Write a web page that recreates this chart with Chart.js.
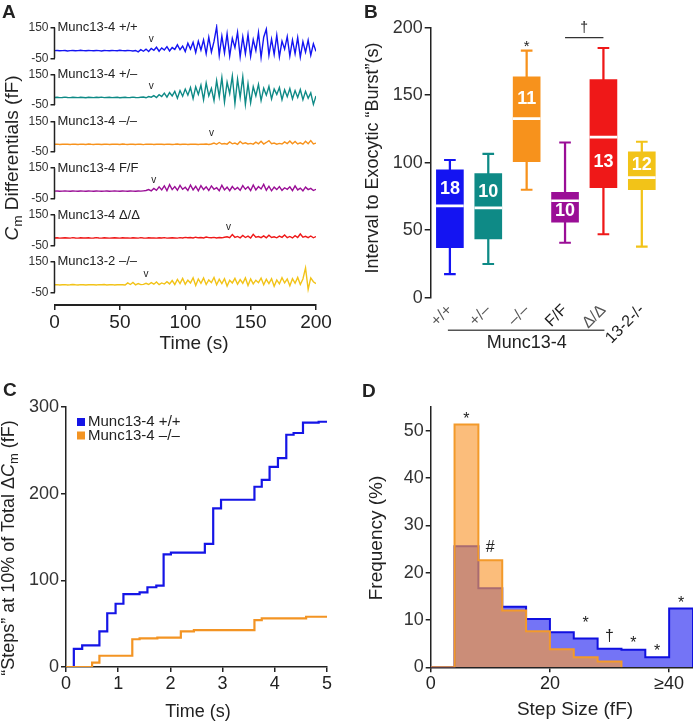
<!DOCTYPE html>
<html lang="en">
<head>
<meta charset="UTF-8">
<title>Munc13-4 exocytosis figure</title>
<script src="https://cdn.jsdelivr.net/npm/chart.js"></script>
<style>
  html, body { margin: 0; padding: 0; background: #fff; }
  #fig { position: relative; width: 693px; height: 721px; overflow: hidden;
         font-family: "Liberation Sans", Arial, sans-serif; color: #222; }
  #fig canvas { position: absolute; left: 0; top: 0; }
  .t { position: absolute; white-space: nowrap; line-height: 1; transform: translate(-50%, -50%); }
  .v { transform: translate(-50%, -50%) rotate(-90deg); }
  .lbl { position: absolute; font-weight: bold; font-size: 19px; line-height: 1; }
  .sub { font-size: 0.72em; position: relative; top: 0.28em; }
</style>
</head>
<body>
<div id="fig">
  <canvas id="chartA" width="693" height="721"></canvas>
  <canvas id="chartB" width="693" height="721"></canvas>
  <canvas id="chartC" width="693" height="721"></canvas>
  <canvas id="chartD" width="693" height="721"></canvas>

  <div class="lbl" style="left:2px;top:2px">A</div>
  <div class="lbl" style="left:364px;top:2px">B</div>
  <div class="lbl" style="left:3px;top:380px">C</div>
  <div class="lbl" style="left:362px;top:381px">D</div>

  <div class="t v" style="left:11px;top:158px;font-size:19px"><i>C</i><span class="sub">m</span> Differentials (fF)</div>
  <div class="t" style="left:194px;top:342px;font-size:19px">Time (s)</div>
  <div class="t v" style="left:372px;top:158px;font-size:18px">Interval to Exocytic “Burst”(s)</div>
  <div class="t v" style="left:8px;top:548px;font-size:18px">“Steps” at 10% of Total Δ<i>C</i><span class="sub">m</span> (fF)</div>
  <div class="t" style="left:198px;top:711px;font-size:18px">Time (s)</div>
  <div class="t v" style="left:375px;top:538px;font-size:19px">Frequency (%)</div>
  <div class="t" style="left:575px;top:708px;font-size:19px">Step Size (fF)</div>
</div>

<script>
// ---------- data ----------
// A: capacitance differential traces, sampled every 2 s
const timeA = [0,2,4,6,8,10,12,14,16,18,20,22,24,26,28,30,32,34,36,38,40,42,44,46,48,50,
  52,54,56,58,60,62,64,66,68,70,72,74,76,78,80,82,84,86,88,90,92,94,96,98,100,
  102,104,106,108,110,112,114,116,118,120,122,124,126,128,130,132,134,136,138,140,
  142,144,146,148,150,152,154,156,158,160,162,164,166,168,170,172,174,176,178,180,
  182,184,186,188,190,192,194,196,198,200];

const traceWT = [0,1,-1,0,1,-2,0,1,-1,0, 2,0,-1,1,0,-1,1,0,-2,1, 0,-1,1,0,-1,2,0,-1,1,0, -2,1,
  -8,6,-4,10,-6, 14,2,22,-4,18, 4,26,-2,20,8, 38,6,30,-6,48, 10,55,-12,62,4, 70,-20,88,-10,60,
  155,-30,95,-15,110, -35,80,20,120,-40, 90,-20,105,-38,72, 0,118,-45,88,140, -30,75,-25,100,-40,
  62,10,92,-35,70, -20,85,-42,58,-10, 68,-30,45,-5];

const traceHet = [0,1,-1,0,2,0,-1,1,0,-1, 1,0,-2,1,0,-1,1,0,2,-1, 0,1,-1,0,1,-2,0,1,-1,0, 2,0,-1,1,
  3,-2,6,2,12, 0,18,6,28,2, 32,10,40,-5,45, 8,55,15,65,-8, 70,20,80,-15,95, 10,60,-20,110,5,
  130,-30,100,25,140, -40,120,0,135,-45, 90,-35,70,10,85, -20,60,15,72,-10, 55,20,65,-15,50,
  5,58,-10,45,0, 52,-15,40,-5,30, -45,10];

const traceKO = [0,1,-1,0,1,0,-1,1,0,-1, 1,0,-1,2,0,-1,1,0,-1,0, 1,-1,0,1,0,-1,2,0,-1,1,
  0,-1,1,0,-2,1,0,1,-1,0, 1,0,-1,1,0,-1,0,2,-1,0, 1,-1,0,1,0,-1,1,0,2,-1,
  2,8,0,12,2, 5,1,15,3,8, 0,18,4,10,2, 6,1,14,3,20, 2,12,24,4,8, 1,6,2,16,5,
  22,3,18,2,10, 1,20,4,24,3, 8];

const traceFF = [0,1,-1,0,1,0,-1,1,0,-1, 1,0,-1,1,0,-1,1,0,-1,0, 1,-1,0,1,0,-1,1,0,-1,1, 0,-1,1,0,2,
  4,10,2,18,5, 28,8,35,3,42, 10,30,6,38,12, 25,4,40,8,32, 2,36,10,28,4, 34,12,22,2,38,
  8,26,3,30,10, 24,5,36,12,28, 4,40,8,30,14, 44,6,32,2,26, 10,30,5,22,12, 28,3,34,8,20,
  2,26,10,18,4, 12];

const traceDelta = [0,1,-1,0,1,0,-1,2,0,-1, 1,0,0,1,-1,0,2,0,-1,1, 0,-1,0,1,0,-1,1,0,0,-1,
  1,0,-1,2,0,-1,1,0,0,-1, 1,0,2,-1,0,1,0,-1,
  2,0,4,1,3,0,5,1,3,0,6,2,1,4,0,3,1,5,
  8,2,22,4,10,1,16,3,12,0,24,5,9,2,14,1,18,3,8,1,12,4,20,2,10,0,15,3,26,5,11,2,13,1,9];

const trace132 = [0,1,-1,0,1,-1,0,2,0,-1, 1,0,-1,0,1,0,-1,1,0,2, -1,0,1,-1,0,1,0,-1,
  12,2,15,0,8,1,3,
  10,2,14,4,18,1,12,5,20,
  6,28,2,35,8,42,4,30,12,46, -5,38,10,44,2,32,14,48,0,36, 8,40,-8,30,12,42,4,34,10,45,
  -4,38,6,30,14,44,0,36,8,40, -10,32,6,46,12,38,-6,40,10,48, 2,
  38,110,-30,45,20,8];

const traceLabels = ['Munc13-4 +/+', 'Munc13-4 +/–', 'Munc13-4 –/–', 'Munc13-4 F/F', 'Munc13-4 Δ/Δ', 'Munc13-2 –/–'];
const traceValues = [traceWT, traceHet, traceKO, traceFF, traceDelta, trace132];
const burstOnset = [74, 74, 120, 76, 133, 70];   // "v" markers (s)
const timeTicksA = [0, 50, 100, 150, 200];

// B: interval to exocytic burst (box plots)
const bCategories = ['+/+', '+/–', '–/–', 'F/F', 'Δ/Δ', '13-2-/-'];
const bMin    = [17.5, 25, 80, 40.7, 47, 37.8];
const bQ1     = [37, 43.5, 100.7, 56, 81.5, 80];
const bMedian = [68, 66.5, 132.6, 71.8, 119, 89];
const bQ3     = [94.8, 92, 163.7, 78, 161.5, 108];
const bMax    = [102, 106.5, 183, 115, 185, 115.5];
const bN      = ['18', '10', '11', '10', '13', '12'];
const bNLabelY = [80.7, 78, 147, 64, 100.7, 98];

// C: cumulative "steps"
const stepTimeWT = [0,0.15,0.31,0.64,0.79,0.95,1.1,1.41,1.56,1.73,1.87,2.01,2.66,2.82,2.97,3.61,3.75,3.9,4.06,4.22,4.36,4.54,4.84,5.0];
const stepValWT  = [0,21,25,41,62,73,84,86,92,94,130,132,142,183,193,208,216,231,241,268,270,282,283,283];
const stepTimeKO = [0,0.5,0.64,1.27,1.41,1.75,2.2,2.45,3.61,3.75,4.6,5.0];
const stepValKO  = [0,5,13,32,33,34,41,42.5,54,56,58,58];

// D: step size histogram (4 fF bins)
const binEdges = [0,4,8,12,16,20,24,28,32,36,40,44];
const freqWT = [0,25.6,16.7,12.8,10.2,7.4,6.1,3.9,3.7,2.1,12.4];
const freqKO = [0,51.3,22.6,12.0,7.6,3.8,2.1,1.2];
const dSigX = [6, 10, 26, 30, 34, 38, 42];
const dSigY = [53, 25.2, 9.8, 6.4, 5.6, 3.9, 14.2];
const dSigSym = ['*', '#', '*', '†', '*', '*', '*'];

// ---------- styling ----------
const FONT = '"Liberation Sans", Arial, sans-serif';
const INK = '#222';
const colors = ['#1414f2', '#0e8a86', '#f7921c', '#9a0e96', '#ef1818', '#f2c318'];
const blue = '#1515e6';
const orange = '#f39423';

Chart.defaults.font.family = FONT;
Chart.defaults.color = INK;
Chart.defaults.animation = false;
Chart.defaults.plugins.legend.display = false;
Chart.defaults.plugins.tooltip.enabled = false;

function fixedTicks(vals) {
  return s => { s.ticks = vals.map(v => ({ value: v })); };
}

// ---------- A ----------
const aScales = {
  x: {
    type: 'linear', min: 0, max: 200,
    afterBuildTicks: fixedTicks(timeTicksA),
    afterFit: s => { s.height = 40; },
    grid: { drawOnChartArea: false, tickLength: 5, color: INK, lineWidth: 1.5 },
    border: { color: INK, width: 2 },
    ticks: { font: { size: 19 }, color: INK, padding: 1, maxRotation: 0 }
  }
};
// stacked axes: the last one defined is placed on top, so define bottom trace first
for (let i = traceValues.length - 1; i >= 0; i--) {
  aScales['y' + i] = {
    type: 'linear', position: 'left', stack: 'traces', stackWeight: 1,
    min: -132, max: 174,
    afterBuildTicks: fixedTicks([-50, 150]),
    afterFit: s => { s.width = 50; },
    grid: { drawOnChartArea: false, tickLength: 4, color: INK, lineWidth: 1.5 },
    border: { display: false },
    ticks: { font: { size: 12 }, color: '#333', padding: 2 }
  };
}

new Chart(document.getElementById('chartA'), {
  type: 'line',
  data: {
    datasets: traceValues.map((vals, i) => ({
      data: timeA.map((t, j) => ({ x: t, y: vals[j] })),
      yAxisID: 'y' + i,
      borderColor: colors[i],
      borderWidth: 1.4,
      pointRadius: 0
    }))
  },
  options: {
    responsive: false, devicePixelRatio: 1,
    layout: { padding: { left: 4.5, top: 24, right: 377, bottom: 376 } },
    scales: aScales
  },
  plugins: [{
    id: 'traceDecor',
    afterDraw(chart) {
      const ctx = chart.ctx;
      const x = chart.scales.x;
      ctx.save();
      traceValues.forEach((v, i) => {
        const s = chart.scales['y' + i];
        ctx.strokeStyle = INK;
        ctx.lineWidth = 1.5;
        ctx.beginPath();
        ctx.moveTo(s.right, s.getPixelForValue(-50));
        ctx.lineTo(s.right, s.getPixelForValue(150));
        ctx.stroke();
        ctx.fillStyle = INK;
        ctx.font = '13px ' + FONT;
        ctx.textAlign = 'left';
        ctx.textBaseline = 'middle';
        ctx.fillText(traceLabels[i], s.right + 3, s.getPixelForValue(150));
        ctx.font = '10px ' + FONT;
        ctx.textAlign = 'center';
        ctx.fillText('v', x.getPixelForValue(burstOnset[i]), s.getPixelForValue(72));
      });
      ctx.restore();
    }
  }]
});

// ---------- B ----------
const bBar = { grouped: false, borderWidth: 0, borderSkipped: false };
new Chart(document.getElementById('chartB'), {
  type: 'bar',
  data: {
    labels: bCategories,
    datasets: [
      { ...bBar, order: 5, data: bMin.map((m, i) => [m, bMax[i]]), backgroundColor: colors, barThickness: 1.6 },
      { ...bBar, order: 4, data: bMin.map(m => [m - 0.55, m + 0.55]), backgroundColor: colors, barThickness: 11 },
      { ...bBar, order: 3, data: bMax.map(m => [m - 0.55, m + 0.55]), backgroundColor: colors, barThickness: 11 },
      { ...bBar, order: 2, data: bQ1.map((q, i) => [q, bQ3[i]]), backgroundColor: colors, barThickness: 27 },
      { ...bBar, order: 1, data: bMedian.map(m => [m - 0.75, m + 0.75]), backgroundColor: '#fff', barThickness: 27 }
    ]
  },
  options: {
    responsive: false, devicePixelRatio: 1,
    layout: { padding: { left: 370.7, top: 27.7, right: 32, bottom: 363.3 } },
    scales: {
      x: {
        afterFit: s => { s.height = 60; },
        grid: { display: false, drawTicks: false },
        border: { display: false },
        ticks: {
          font: { size: 16 }, padding: 3, minRotation: 45, maxRotation: 45,
          color: c => (c.index === 3 || c.index === 5) ? '#1a1a1a' : '#555'
        }
      },
      y: {
        min: 0, max: 200,
        afterBuildTicks: fixedTicks([0, 50, 100, 150, 200]),
        afterFit: s => { s.width = 60; },
        grid: { drawOnChartArea: false, tickLength: 6, color: INK, lineWidth: 1.5 },
        border: { color: INK, width: 1.5 },
        ticks: { font: { size: 18 }, color: '#333', padding: 2 }
      }
    }
  },
  plugins: [{
    id: 'boxDecor',
    afterDraw(chart) {
      const { ctx, scales: { x, y } } = chart;
      ctx.save();
      ctx.textAlign = 'center';
      ctx.textBaseline = 'middle';
      ctx.fillStyle = '#fff';
      ctx.font = 'bold 18px ' + FONT;
      bN.forEach((n, i) => ctx.fillText(n, x.getPixelForValue(i), y.getPixelForValue(bNLabelY[i])));
      ctx.fillStyle = INK;
      ctx.font = '15px ' + FONT;
      ctx.fillText('*', x.getPixelForValue(2), y.getPixelForValue(186));
      // bracket between F/F and Δ/Δ
      ctx.strokeStyle = '#333';
      ctx.lineWidth = 1.3;
      const by = y.getPixelForValue(192.6);
      ctx.beginPath();
      ctx.moveTo(x.getPixelForValue(3), by);
      ctx.lineTo(x.getPixelForValue(4), by);
      ctx.stroke();
      ctx.font = '14px ' + FONT;
      ctx.fillText('†', x.getPixelForValue(3.5), y.getPixelForValue(199.5));
      // Munc13-4 group
      const gy = y.bottom + 32.5;
      ctx.strokeStyle = '#555';
      ctx.lineWidth = 1.5;
      ctx.beginPath();
      ctx.moveTo(x.getPixelForValue(0) - 2, gy);
      ctx.lineTo(x.getPixelForValue(4) + 1, gy);
      ctx.stroke();
      ctx.fillStyle = INK;
      ctx.font = '18px ' + FONT;
      ctx.fillText('Munc13-4', (x.getPixelForValue(0) + x.getPixelForValue(4)) / 2, gy + 13);
      ctx.restore();
    }
  }]
});

// ---------- C ----------
new Chart(document.getElementById('chartC'), {
  type: 'line',
  data: {
    datasets: [
      { data: stepTimeKO.map((t, i) => ({ x: t, y: stepValKO[i] })), borderColor: orange, borderWidth: 2.2, pointRadius: 0, stepped: 'before' },
      { data: stepTimeWT.map((t, i) => ({ x: t, y: stepValWT[i] })), borderColor: blue, borderWidth: 2.2, pointRadius: 0, stepped: 'before' }
    ]
  },
  options: {
    responsive: false, devicePixelRatio: 1,
    layout: { padding: { left: 6, top: 407, right: 366, bottom: 14 } },
    scales: {
      x: {
        type: 'linear', min: 0, max: 5,
        afterBuildTicks: fixedTicks([0, 1, 2, 3, 4, 5]),
        afterFit: s => { s.height = 40; },
        grid: { drawOnChartArea: false, tickLength: 5, color: INK, lineWidth: 1.5 },
        border: { color: INK, width: 1.5 },
        ticks: { font: { size: 18 }, color: INK, padding: 1, maxRotation: 0 }
      },
      y: {
        min: 0, max: 300,
        afterBuildTicks: fixedTicks([0, 100, 200, 300]),
        afterFit: s => { s.width = 60; },
        grid: { drawOnChartArea: false, tickLength: 5, color: INK, lineWidth: 1.5 },
        border: { color: INK, width: 1.5 },
        ticks: { font: { size: 18 }, color: '#333', padding: 2 }
      }
    }
  },
  plugins: [{
    id: 'legendC',
    afterDraw(chart) {
      const ctx = chart.ctx;
      const left = chart.chartArea.left + 11;
      const rows = [['Munc13-4 +/+', blue], ['Munc13-4 –/–', orange]];
      ctx.save();
      ctx.font = '15px ' + FONT;
      ctx.textBaseline = 'middle';
      rows.forEach(([txt, c], i) => {
        const cy = chart.chartArea.top + 15 + i * 13.5;
        ctx.fillStyle = c;
        ctx.fillRect(left, cy - 4, 8, 8);
        ctx.fillStyle = INK;
        ctx.fillText(txt, left + 11, cy);
      });
      ctx.restore();
    }
  }]
});

// ---------- D ----------
function histPoints(freq) {
  const pts = freq.map((f, i) => ({ x: binEdges[i], y: f }));
  pts.push({ x: binEdges[freq.length], y: 0 });
  return pts;
}
new Chart(document.getElementById('chartD'), {
  type: 'line',
  data: {
    datasets: [
      { data: histPoints(freqKO), stepped: 'before', fill: 'origin', pointRadius: 0,
        borderColor: '#f39a2a', borderWidth: 2, backgroundColor: 'rgba(249,155,55,0.66)' },
      { data: histPoints(freqWT), stepped: 'before', fill: 'origin', pointRadius: 0,
        borderColor: '#1010e0', borderWidth: 2, backgroundColor: 'rgba(30,30,240,0.62)' }
    ]
  },
  options: {
    responsive: false, devicePixelRatio: 1,
    layout: { padding: { left: 370.7, top: 407, right: 0, bottom: 13.7 } },
    scales: {
      x: {
        type: 'linear', min: 0, max: 44,
        afterBuildTicks: fixedTicks([0, 20, 40]),
        afterFit: s => { s.height = 40; },
        grid: { drawOnChartArea: false, tickLength: 5, color: INK, lineWidth: 1.5 },
        border: { color: INK, width: 1.5 },
        ticks: { font: { size: 18 }, color: INK, padding: 1, maxRotation: 0,
                 callback: v => v === 40 ? '≥40' : v }
      },
      y: {
        min: 0, max: 55,
        afterBuildTicks: fixedTicks([0, 10, 20, 30, 40, 50]),
        afterFit: s => { s.width = 60; },
        grid: { drawOnChartArea: false, tickLength: 5, color: INK, lineWidth: 1.5 },
        border: { color: INK, width: 1.5 },
        ticks: { font: { size: 18 }, color: '#333', padding: 2 }
      }
    }
  },
  plugins: [{
    id: 'histMarks',
    afterDraw(chart) {
      const { ctx, scales: { x, y } } = chart;
      ctx.save();
      ctx.fillStyle = INK;
      ctx.textAlign = 'center';
      ctx.textBaseline = 'middle';
      dSigSym.forEach((s, i) => {
        ctx.font = (s === '*' ? '16px ' : '16px ') + FONT;
        ctx.fillText(s, x.getPixelForValue(dSigX[i]), y.getPixelForValue(dSigY[i]) + (s === '*' ? 3 : 0));
      });
      ctx.restore();
    }
  }]
});
</script>
</body>
</html>
